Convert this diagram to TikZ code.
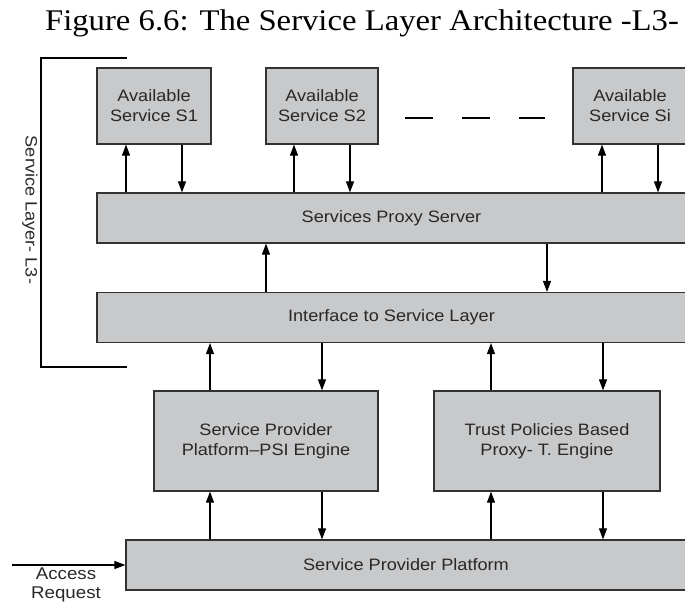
\documentclass[tikz,border=0pt]{standalone}
\usepackage{fontspec}
\setmainfont{Liberation Serif}
\newfontfamily\boxfont[FakeStretch=1.1]{Liberation Sans}
\newfontfamily\titlefont[FakeStretch=1.09]{Liberation Serif}
\usetikzlibrary{arrows.meta}
\definecolor{boxgray}{RGB}{200,201,203}
\definecolor{edgegray}{RGB}{50,50,50}
\definecolor{txtgray}{RGB}{40,40,40}

\begin{document}
\begin{tikzpicture}[x=1pt,y=-1pt,
    block/.style={draw=edgegray,fill=boxgray,line width=1.2pt,inner sep=0pt,align=center,text=txtgray,font=\boxfont\fontsize{16.5}{20}\selectfont},
    arr/.style={-{Triangle[length=11pt,width=8pt]},line width=1.1pt}]
            \useasboundingbox (0,0) rectangle (685,603);

            \node (title) at (362,30) [anchor=base,font=\titlefont\fontsize{30}{36}\selectfont] {Figure 6.6: The Service Layer Architecture -L3-};

            % available services
            \node (s1) at (154,106) [block,minimum width=114pt,minimum height=76pt] {Available\\Service S1};
            \node (s2) at (322,106) [block,minimum width=112pt,minimum height=76pt] {Available\\Service S2};
            \node (si) at (630,106) [block,minimum width=114pt,minimum height=76pt] {Available\\Service Si};
            \draw[line width=1.1pt,dash pattern=on 28pt off 29pt] ([xshift=26pt,yshift=-12pt]s2.east) -- ([xshift=-27pt,yshift=-12pt]si.west);

            % layers
            \node (proxy) at (391.5,218) [block,minimum width=589pt,minimum height=50pt] {Services Proxy Server};
            \node (iface) at (391.5,317.5) [block,minimum width=589pt,minimum height=50pt] {Interface to Service Layer};
            \node (psi) at (266,441) [block,minimum width=224pt,minimum height=100pt] {Service Provider\\Platform–PSI Engine};
            \node (trust) at (547,441) [block,minimum width=226pt,minimum height=100pt] {Trust Policies Based\\Proxy- T. Engine};
            \node (spp) at (406,565) [block,minimum width=560pt,minimum height=50pt] {Service Provider Platform};

            % bracket of the service layer
            \draw[line width=1.1pt] (127,58) -- (41,58) -- (41,367) -- (127,367);
            \node (layer) at (30,210) [rotate=-90,text=txtgray,font=\boxfont\fontsize{16.5}{20}\selectfont] {Service Layer- L3-};

            \foreach \s in {s1,s2,si}{
                \draw[arr] ([xshift=-28pt]\s.south |- proxy.north) -- ([xshift=-28pt]\s.south);
                \draw[arr] ([xshift=28pt]\s.south) -- ([xshift=28pt]\s.south |- proxy.north);
            }
            \draw[arr] (psi.north |- iface.north) -- (psi.north |- proxy.south);
            \draw[arr] (trust.north |- proxy.south) -- (trust.north |- iface.north);
            \foreach \e in {psi,trust}{
                \draw[arr] ([xshift=-56pt]\e.north) -- ([xshift=-56pt]\e.north |- iface.south);
                \draw[arr] ([xshift=56pt]\e.north |- iface.south) -- ([xshift=56pt]\e.north);
                \draw[arr] ([xshift=-56pt]\e.south |- spp.north) -- ([xshift=-56pt]\e.south);
                \draw[arr] ([xshift=56pt]\e.south) -- ([xshift=56pt]\e.south |- spp.north);
            }

            % access request
            \coordinate (req) at (12,565);
            \draw[arr] (req) -- (spp.west);
            \node (access) at (66,585) [align=center,text=txtgray,font=\boxfont\fontsize{17}{18.5}\selectfont] {Access\\Request};

\end{tikzpicture}
\end{document}
